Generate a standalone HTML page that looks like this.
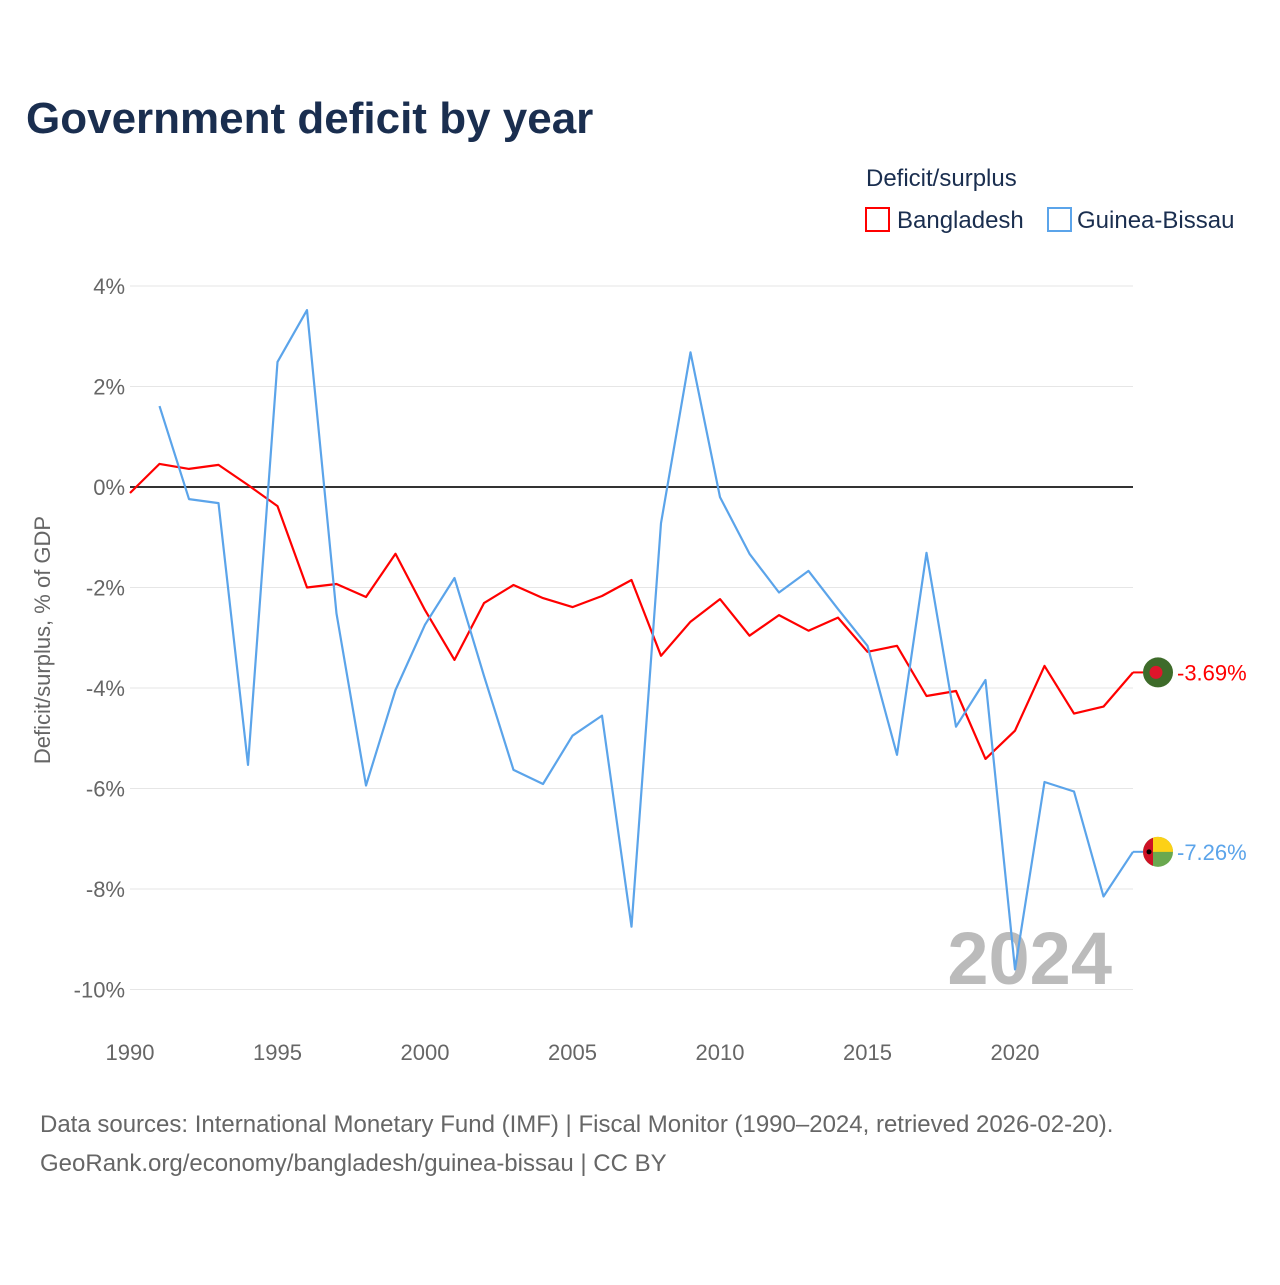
<!DOCTYPE html>
<html><head><meta charset="utf-8"><style>
body{margin:0;background:#fff;font-family:"Liberation Sans",sans-serif}
svg text{font-family:"Liberation Sans",sans-serif}
</style></head><body>
<svg id="chart" width="1280" height="1280" viewBox="0 0 1280 1280" xmlns="http://www.w3.org/2000/svg">
<rect width="1280" height="1280" fill="#fff"/>
<text x="26" y="133" font-size="44" font-weight="bold" fill="#1a2e4f">Government deficit by year</text>
<text x="866" y="186" font-size="24" fill="#1a2e4f">Deficit/surplus</text>
<g><rect x="866" y="208" width="23" height="23" fill="none" stroke="#ff0000" stroke-width="2"/><text x="897" y="228" font-size="24" fill="#1a2e4f">Bangladesh</text></g>
<g><rect x="1048" y="208" width="23" height="23" fill="none" stroke="#5ba4ea" stroke-width="2"/><text x="1077" y="228" font-size="24" fill="#1a2e4f">Guinea-Bissau</text></g>
<text transform="translate(50,640) rotate(-90)" text-anchor="middle" font-size="22" fill="#666">Deficit/surplus, % of GDP</text>
<g id="grid"></g><g id="axes"></g>
<text x="1112" y="984" text-anchor="end" font-size="74" font-weight="bold" fill="#bbb">2024</text>
<g id="series"></g>
<text x="40" y="1132" font-size="24" fill="#666">Data sources: International Monetary Fund (IMF) | Fiscal Monitor (1990–2024, retrieved 2026-02-20).</text>
<text x="40" y="1171" font-size="24" fill="#666">GeoRank.org/economy/bangladesh/guinea-bissau | CC BY</text>
</svg>
<script>
const years=[1990,1991,1992,1993,1994,1995,1996,1997,1998,1999,2000,2001,2002,2003,2004,2005,2006,2007,2008,2009,2010,2011,2012,2013,2014,2015,2016,2017,2018,2019,2020,2021,2022,2023,2024];
const bangladesh=[-0.12,0.46,0.36,0.44,0.04,-0.38,-2.0,-1.93,-2.19,-1.33,-2.45,-3.44,-2.31,-1.95,-2.21,-2.39,-2.17,-1.85,-3.36,-2.68,-2.23,-2.96,-2.55,-2.86,-2.6,-3.28,-3.16,-4.16,-4.06,-5.41,-4.85,-3.56,-4.51,-4.37,-3.69];
const guineaBissau=[null,1.61,-0.24,-0.32,-5.53,2.49,3.52,-2.52,-5.94,-4.04,-2.74,-1.81,-3.76,-5.63,-5.91,-4.95,-4.55,-8.75,-0.72,2.68,-0.2,-1.33,-2.1,-1.67,-2.43,-3.16,-5.33,-1.31,-4.77,-3.84,-9.6,-5.87,-6.06,-8.15,-7.26];
const yTicks=[4,2,0,-2,-4,-6,-8,-10];
const xTicks=[1990,1995,2000,2005,2010,2015,2020];
const NS="http://www.w3.org/2000/svg";
const X=y=>130+(y-1990)*(1133-130)/34;
const Y=v=>487-v*50.25;
function mk(t,a,p){const e=document.createElementNS(NS,t);for(const k in a)e.setAttribute(k,a[k]);p.appendChild(e);return e;}
const grid=document.getElementById('grid'),axes=document.getElementById('axes'),ser=document.getElementById('series');
yTicks.forEach(v=>{
 const l=mk('line',{x1:130,x2:1133,y1:Y(v),y2:Y(v),stroke:v===0?'#333':'#e6e6e6','stroke-width':v===0?2:1},grid);
 
 
 const t=mk('text',{x:125,y:Y(v)+8,'text-anchor':'end','font-size':22,fill:'#666'},axes);
 t.textContent=v+'%';
 
 
});
xTicks.forEach(v=>{
 const t=mk('text',{x:X(v),y:1060,'text-anchor':'middle','font-size':22,fill:'#666'},axes);
 t.textContent=v;
 
 
});
function line(vals,color,name){
 let d='';vals.forEach((v,i)=>{if(v===null)return;d+=(d?'L':'M')+X(years[i]).toFixed(1)+','+Y(v).toFixed(1);});
 const p=mk('path',{d:d,fill:'none',stroke:color,'stroke-width':2.2,'stroke-linejoin':'round'},ser);
 
 
 const last=vals[vals.length-1],y=Y(last);
 mk('line',{x1:1133,x2:1143,y1:y,y2:y,stroke:color,'stroke-width':2},ser);
 const t=mk('text',{x:1177,y:y+8,'font-size':22,fill:color},ser);
 t.textContent=last.toFixed(2)+'%';
 
 
 return y;
}
const yb=line(bangladesh,'#ff0000','bangladesh');
const yg=line(guineaBissau,'#5ba4ea','guinea-bissau');
const f1=mk('g',{},ser);


mk('circle',{cx:1158,cy:yb,r:15,fill:'#3e6b2a'},f1);
mk('circle',{cx:1156,cy:yb,r:6.5,fill:'#e0152b'},f1);
const f2=mk('g',{},ser);


mk('circle',{cx:1158,cy:yg,r:15,fill:'#6aa84f'},f2);
mk('path',{d:`M1153,${yg-14.1} A15,15 0 0 1 1173,${yg} L1153,${yg}Z`,fill:'#fcd116'},f2);
mk('path',{d:`M1153,${yg-14.1} A15,15 0 0 0 1153,${yg+14.1}Z`,fill:'#ce1126'},f2);
mk('circle',{cx:1149,cy:yg,r:2.5,fill:'#000'},f2);
</script>
</body></html>
